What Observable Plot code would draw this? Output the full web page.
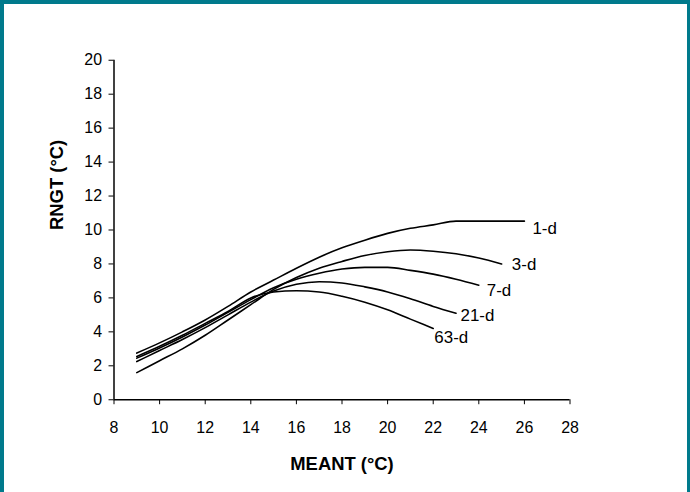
<!DOCTYPE html>
<html>
<head>
<meta charset="utf-8">
<script src="https://cdn.jsdelivr.net/npm/d3@7"></script>
<script src="https://cdn.jsdelivr.net/npm/@observablehq/plot@0.6"></script>
<style>
  html, body { margin: 0; padding: 0; background: #fff; }
  #frame { position: relative; width: 690px; height: 492px; box-sizing: border-box;
           border-left: 4px solid #007a8c; border-top: 4px solid #007a8c; border-right: 3px solid #007a8c; overflow: hidden; }
  #chart { position: absolute; left: -4px; top: -4px; }
</style>
</head>
<body>
<div id="frame"><div id="chart"></div></div>
<script>
const xTicks = [8, 10, 12, 14, 16, 18, 20, 22, 24, 26, 28];
const yTicks = [0, 2, 4, 6, 8, 10, 12, 14, 16, 18, 20];

const meant1 = [9, 10, 11, 12, 13, 14, 15, 16, 17, 18, 19, 20, 21, 22, 23, 24, 25, 26];
const rngt1d = [2.75, 3.35, 4.0, 4.7, 5.5, 6.35, 7.05, 7.75, 8.4, 8.95, 9.4, 9.8, 10.1, 10.3, 10.52, 10.52, 10.52, 10.52];

const meant3 = [9, 10, 11, 12, 13, 14, 15, 16, 17, 18, 19, 20, 21, 22, 23, 24, 25];
const rngt3d = [1.6, 2.3, 3.0, 3.8, 4.7, 5.6, 6.5, 7.2, 7.75, 8.15, 8.5, 8.72, 8.82, 8.75, 8.6, 8.35, 8.0];

const meant7 = [9, 10, 11, 12, 13, 14, 15, 16, 17, 18, 19, 20, 21, 22, 23, 24];
const rngt7d = [2.45, 3.05, 3.7, 4.4, 5.15, 5.9, 6.6, 7.1, 7.45, 7.7, 7.8, 7.8, 7.62, 7.4, 7.1, 6.75];

const meant21 = [9, 10, 11, 12, 13, 14, 15, 16, 17, 18, 19, 20, 21, 22, 23];
const rngt21d = [2.25, 2.9, 3.55, 4.25, 5.0, 5.75, 6.4, 6.8, 6.95, 6.88, 6.65, 6.35, 5.95, 5.5, 5.1];

const meant63 = [9, 10, 11, 12, 13, 14, 15, 16, 17, 18, 19, 20, 21, 22];
const rngt63d = [2.55, 3.15, 3.8, 4.5, 5.2, 6.0, 6.35, 6.42, 6.35, 6.1, 5.75, 5.3, 4.75, 4.2];

const seriesNames = ["1-d", "3-d", "7-d", "21-d", "63-d"];
const labelX = [26.35, 25.45, 24.35, 23.2, 22.05];
const labelY = [10.1, 7.95, 6.45, 4.95, 3.65];

const seriesX = [meant1, meant3, meant7, meant21, meant63];
const seriesY = [rngt1d, rngt3d, rngt7d, rngt21d, rngt63d];

const rows = [];
seriesNames.forEach((s, i) => seriesX[i].forEach((x, j) => rows.push({series: s, x, y: seriesY[i][j]})));
const labels = seriesNames.map((s, i) => ({series: s, x: labelX[i], y: labelY[i]}));

const chart = Plot.plot({
  width: 690,
  height: 492,
  marginLeft: 114,
  marginRight: 118,
  marginTop: 60,
  marginBottom: 91,
  style: {fontFamily: "Liberation Sans, Arial, sans-serif", fontSize: "16px", color: "#000", background: "transparent"},
  x: {domain: [8, 28], ticks: xTicks, label: null},
  y: {domain: [0, 20], ticks: yTicks, label: null},
  marks: [
    Plot.axisX({ticks: xTicks, tickSize: 5, tickPadding: 17, fontSize: 16, label: null}),
    Plot.axisY({ticks: yTicks, tickSize: 5, tickPadding: 7, fontSize: 16, label: null}),
    Plot.ruleX([8], {stroke: "#000", strokeWidth: 1.5}),
    Plot.ruleY([0], {stroke: "#000", strokeWidth: 1.5}),
    Plot.line(rows, {x: "x", y: "y", z: "series", stroke: "#000", strokeWidth: 1.6, curve: "monotone-x"}),
    Plot.text(labels, {x: "x", y: "y", text: "series", textAnchor: "start", fontSize: 17, fill: "#000"}),
    Plot.text(["RNGT (°C)"], {frameAnchor: "left", dx: -57, rotate: -90, fontWeight: "bold", fontSize: 18.5}),
    Plot.text(["MEANT (°C)"], {frameAnchor: "bottom", dy: 71, fontWeight: "bold", fontSize: 18.5})
  ]
});
document.getElementById("chart").appendChild(chart);
</script>
</body>
</html>
